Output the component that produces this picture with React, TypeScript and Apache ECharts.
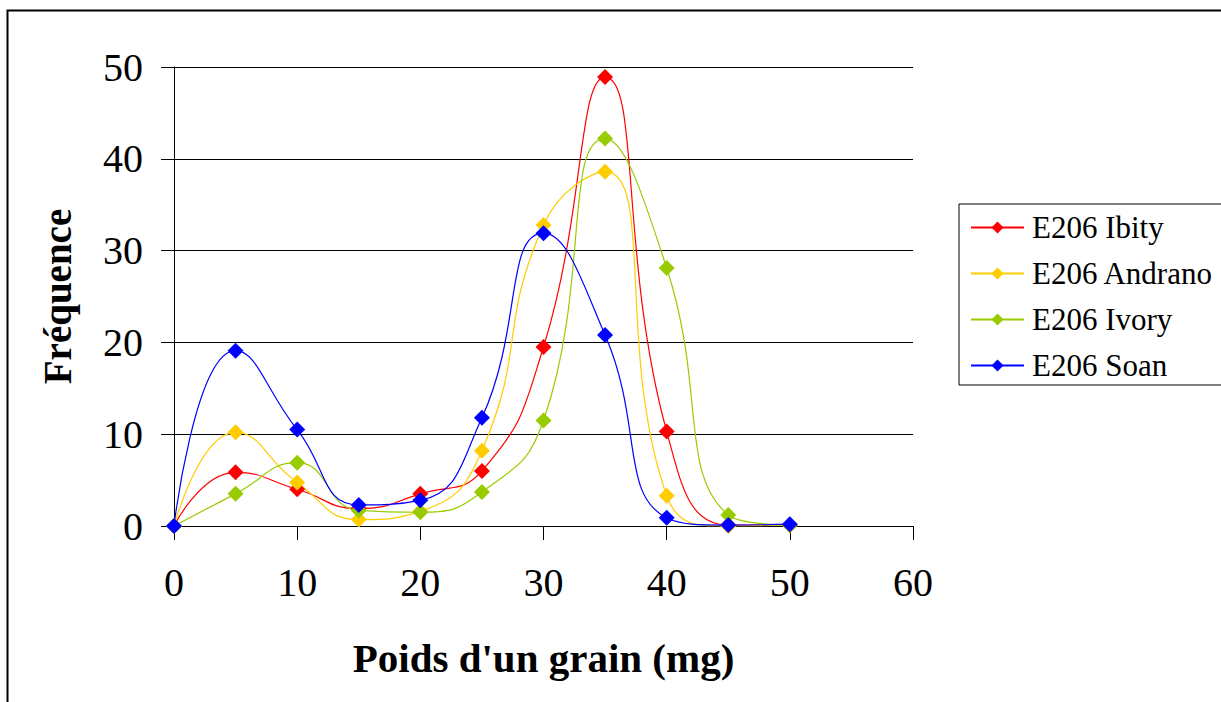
import React, { useEffect, useRef } from "react";
import * as echarts from "echarts";

const xValues = [0, 5, 10, 15, 20, 25, 30, 35, 40, 45, 50];
const seriesNames = ["E206 Ibity", "E206 Andrano", "E206 Ivory", "E206 Soan"];
const ibity = [0, 5.85, 4.0, 1.9, 3.5, 6.0, 19.5, 48.9, 10.3, 0.1, 0.1];
const andrano = [0, 10.2, 4.75, 0.7, 1.6, 8.2, 32.8, 38.6, 3.3, 0, 0.1];
const ivory = [0, 3.5, 6.9, 1.7, 1.5, 3.7, 11.5, 42.2, 28.1, 1.2, 0.1];
const soan = [0, 19.1, 10.5, 2.3, 2.8, 11.8, 31.9, 20.8, 0.9, 0.1, 0.2];
const colors = ["#FF0000", "#FFCC00", "#99CC00", "#0000FF"];
const xTitle = "Poids d'un grain (mg)";
const yTitle = "Fréquence";

const allSeries = [ibity, andrano, ivory, soan];

export default function App() {
  const ref = useRef<HTMLDivElement>(null);
  useEffect(() => {
    if (!ref.current) return;
    const chart = echarts.init(ref.current, null, { renderer: "svg" });
    const font = "'Liberation Serif', 'Times New Roman', serif";
    chart.setOption({
      animation: false,
      backgroundColor: "#ffffff",
      textStyle: { fontFamily: font },
      graphic: [
        {
          type: "rect",
          shape: { x: 7.5, y: 10.5, width: 1300, height: 800 },
          style: { fill: "none", stroke: "#000", lineWidth: 2 },
          silent: true,
        },
      ],
      grid: { left: 174, top: 67, right: 308, bottom: 176 },
      legend: {
        orient: "vertical",
        left: 959,
        top: 204,
        width: 240,
        padding: [8, 30, 4, 11],
        borderColor: "#000",
        borderWidth: 1,
        itemWidth: 53,
        itemHeight: 15,
        itemGap: 15,
        textStyle: { fontFamily: font, fontSize: 31, color: "#000", padding: [0, 0, 0, 3] },
        data: seriesNames,
      },
      xAxis: {
        type: "value",
        min: 0,
        max: 60,
        interval: 10,
        name: xTitle,
        nameLocation: "middle",
        nameGap: 111,
        nameTextStyle: { fontFamily: font, fontSize: 41, fontWeight: "bold", color: "#000" },
        axisLine: { show: true, lineStyle: { color: "#000", width: 1 } },
        axisTick: { show: true, length: 14, lineStyle: { color: "#000" } },
        axisLabel: { fontFamily: font, fontSize: 40, color: "#000", margin: 36 },
        splitLine: { show: false },
      },
      yAxis: {
        type: "value",
        min: 0,
        max: 50,
        interval: 10,
        name: yTitle,
        nameLocation: "middle",
        nameGap: 97,
        nameTextStyle: { fontFamily: font, fontSize: 39, fontWeight: "bold", color: "#000" },
        axisLine: { show: true, lineStyle: { color: "#000", width: 1 } },
        axisTick: { show: true, length: 13, lineStyle: { color: "#000" } },
        axisLabel: { fontFamily: font, fontSize: 40, color: "#000", margin: 31 },
        splitLine: { show: true, lineStyle: { color: "#000", width: 1 } },
      },
      series: allSeries.map((vals, i) => ({
        name: seriesNames[i],
        type: "line",
        smooth: 0.5,
        symbol: "diamond",
        symbolSize: 16,
        color: colors[i],
        lineStyle: { color: colors[i], width: 1.2 },
        itemStyle: { color: colors[i] },
        data: xValues.map((x, j) => [x, vals[j]]),
      })),
    });
    return () => chart.dispose();
  }, []);
  return (
    <div
      ref={ref}
      style={{ position: "fixed", left: 0, top: 0, width: 1221, height: 702 }}
    />
  );
}
